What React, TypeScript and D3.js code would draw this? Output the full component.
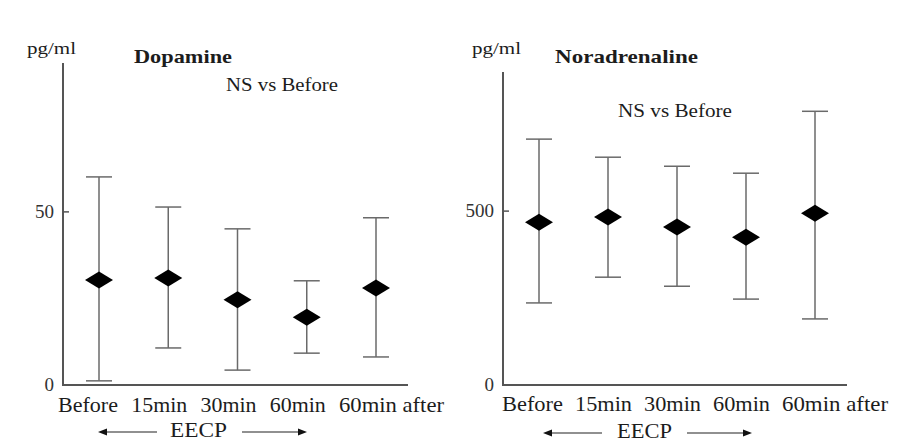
import React from 'react'
import * as d3 from 'd3'

// time points along the x axis
const categories = ['Before', '15min', '30min', '60min', '60min after']

// Dopamine (pg/ml): mean, upper and lower error bar ends
const dopamineMean = [30.3, 30.9, 24.6, 19.6, 28.0]
const dopamineUpper = [60.1, 51.4, 45.1, 30.1, 48.3]
const dopamineLower = [1.2, 10.7, 4.3, 9.2, 8.1]

// Noradrenaline (pg/ml)
const noradMean = [468, 483, 454, 425, 494]
const noradUpper = [707, 655, 629, 609, 787]
const noradLower = [236, 310, 284, 247, 190]

const dopamineTicks = [0, 50]
const noradTicks = [0, 500]

const FONT = '"Liberation Serif", "Times New Roman", serif'
const INK = '#1c1c1c'

interface PanelProps {
  title: string
  mean: number[]
  upper: number[]
  lower: number[]
  ticks: number[]
  yMax: number
  left: number
  top: number
  right: number
  bottom: number
  firstX: number
  lastX: number
  labelShift: number
  labelWidths: number[]
  labelY: number
  text: {
    unit: [number, number]
    title: [number, number, number]
    ns: [number, number, number]
    eecp: [number, number, number]
    arrowL: [number, number]
    arrowR: [number, number]
    arrowY: number
  }
}

const Panel = (p: PanelProps) => {
  const y = d3.scaleLinear().domain([0, p.yMax]).range([p.bottom, p.top])
  const x = d3.scalePoint<string>().domain(categories).range([p.firstX, p.lastX])
  const capHalf = 13
  const dw = 14
  const dh = 8.5
  const diamond = (cx: number, cy: number) =>
    `M${cx - dw},${cy}L${cx},${cy - dh}L${cx + dw},${cy}L${cx},${cy + dh}Z`

  const t = p.text
  return (
    <g fontFamily={FONT} fill={INK}>
      {/* axes */}
      <path
        d={`M${p.left},${p.top}V${p.bottom}H${p.right}`}
        fill="none"
        stroke="#555"
        strokeWidth={2}
      />
      {p.ticks.map((v) => (
        <g key={v}>
          {v !== 0 && (
            <line x1={p.left} x2={p.left + 6} y1={y(v)} y2={y(v)} stroke="#555" strokeWidth={1.5} />
          )}
          <text x={p.left - 9} y={y(v) + 6} fontSize={19} textAnchor="end" fill="#333">
            {v}
          </text>
        </g>
      ))}

      {/* error bars and means */}
      {categories.map((c, i) => {
        const cx = x(c)!
        return (
          <g key={c}>
            <line x1={cx} x2={cx} y1={y(p.upper[i])} y2={y(p.lower[i])} stroke="#6a6a6a" strokeWidth={1.5} />
            <line x1={cx - capHalf} x2={cx + capHalf} y1={y(p.upper[i])} y2={y(p.upper[i])} stroke="#6a6a6a" strokeWidth={1.5} />
            <line x1={cx - capHalf} x2={cx + capHalf} y1={y(p.lower[i])} y2={y(p.lower[i])} stroke="#6a6a6a" strokeWidth={1.5} />
            <path d={diamond(cx, y(p.mean[i]))} fill="#000" />
          </g>
        )
      })}

      {/* category labels */}
      {categories.map((c, i) => (
        <text
          key={c}
          x={x(c)! - p.labelShift - (i === 0 ? 4 : 0)}
          y={p.labelY}
          fontSize={21}
          textLength={p.labelWidths[i]}
          lengthAdjust="spacingAndGlyphs"
        >
          {c}
        </text>
      ))}

      {/* titles */}
      <text x={t.unit[0]} y={t.unit[1]} fontSize={17} textLength={49} lengthAdjust="spacingAndGlyphs">
        pg/ml
      </text>
      <text
        x={t.title[0]}
        y={t.title[1]}
        fontSize={19}
        fontWeight="bold"
        textLength={t.title[2]}
        lengthAdjust="spacingAndGlyphs"
      >
        {p.title}
      </text>
      <text x={t.ns[0]} y={t.ns[1]} fontSize={18} textLength={t.ns[2]} lengthAdjust="spacingAndGlyphs">
        NS vs Before
      </text>

      {/* EECP span */}
      <text x={t.eecp[0]} y={t.eecp[1]} fontSize={20} textLength={t.eecp[2]} lengthAdjust="spacingAndGlyphs">
        EECP
      </text>
      <line x1={t.arrowL[0] + 6} x2={t.arrowL[1]} y1={t.arrowY} y2={t.arrowY} stroke="#222" strokeWidth={1.2} />
      <path d={`M${t.arrowL[0]},${t.arrowY}l9,-3.5v7Z`} fill="#111" />
      <line x1={t.arrowR[0]} x2={t.arrowR[1] - 6} y1={t.arrowY} y2={t.arrowY} stroke="#222" strokeWidth={1.2} />
      <path d={`M${t.arrowR[1]},${t.arrowY}l-9,-3.5v7Z`} fill="#111" />
    </g>
  )
}

export default function App() {
  return (
    <svg
      width={897}
      height={443}
      style={{ position: 'absolute', left: 0, top: 0, background: '#fff' }}
    >
      <rect width={897} height={443} fill="#fff" />
      <Panel
        title="Dopamine"
        mean={dopamineMean}
        upper={dopamineUpper}
        lower={dopamineLower}
        ticks={dopamineTicks}
        yMax={93}
        left={63}
        top={63}
        right={408}
        bottom={385}
        firstX={99}
        lastX={376}
        labelShift={37}
        labelWidths={[60, 56, 56, 56, 105]}
        labelY={412}
        text={{
          unit: [27, 54],
          title: [134, 63, 98],
          ns: [226, 91, 112],
          eecp: [170, 437, 57],
          arrowL: [98, 157],
          arrowR: [242, 307],
          arrowY: 432,
        }}
      />
      <Panel
        title="Noradrenaline"
        mean={noradMean}
        upper={noradUpper}
        lower={noradLower}
        ticks={noradTicks}
        yMax={900}
        left={503}
        top={72}
        right={847}
        bottom={385}
        firstX={539}
        lastX={815}
        labelShift={33}
        labelWidths={[61, 57, 57, 57, 106]}
        labelY={411}
        text={{
          unit: [472, 54],
          title: [555, 63, 143],
          ns: [618, 117, 114],
          eecp: [617, 438, 55],
          arrowL: [543, 602],
          arrowR: [687, 752],
          arrowY: 433,
        }}
      />
    </svg>
  )
}
